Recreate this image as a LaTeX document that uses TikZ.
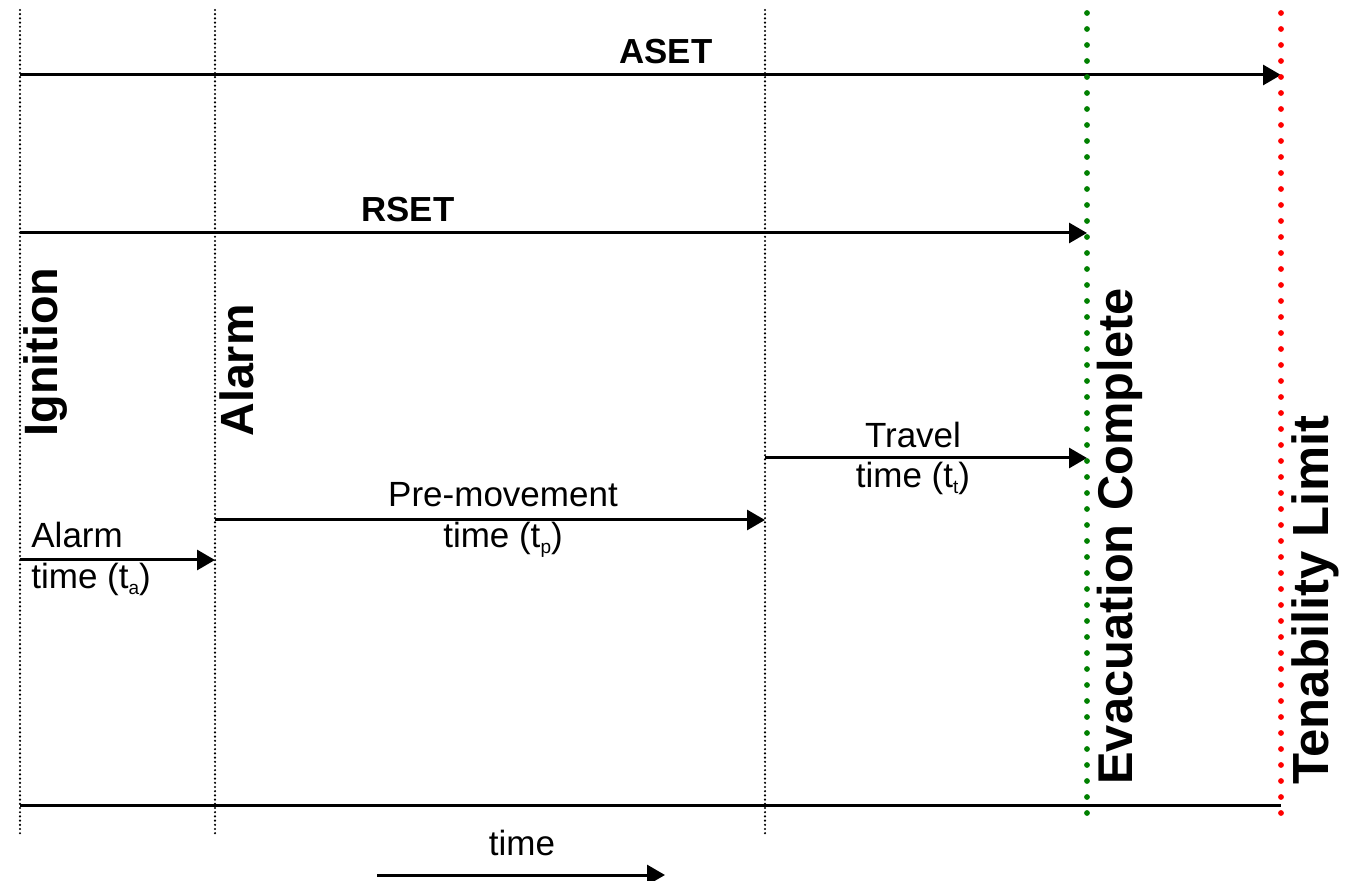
\documentclass[tikz,border=0pt]{standalone}
\usepackage{fontspec}
\setmainfont{Liberation Sans}
\usetikzlibrary{arrows.meta}
\definecolor{evgreen}{RGB}{0,128,0}
\definecolor{tenred}{RGB}{255,0,0}
\newcommand\lowsub[1]{\raisebox{-0.3ex}{\fontsize{9.5}{9.5}\selectfont #1}}
\begin{document}
\begin{tikzpicture}[x=0.5pt,y=-0.5pt,
  arr/.style={line width=1.5pt,-{Triangle[length=9pt,width=10pt]}},
  plainline/.style={line width=1.5pt},
  blackdot/.style={line width=1.2pt,line cap=round,dash pattern=on 0pt off 2.1pt},
  colordot/.style={line width=2.9pt,line cap=round,dash pattern=on 0pt off 8pt},
  lbl/.style={inner sep=0pt,anchor=base,font=\fontsize{17.5}{21}\selectfont},
  boldlbl/.style={inner sep=0pt,anchor=base,font=\fontsize{17.4}{21}\selectfont\bfseries},
  vlbl/.style={inner sep=0pt,rotate=90,anchor=base west}]
\useasboundingbox (0,0) rectangle (1355,881);
% vertical markers
\coordinate (igT) at (20,10);   \coordinate (igB) at (20,835);
\coordinate (alT) at (215,10);  \coordinate (alB) at (215,835);
\coordinate (pmT) at (765,10);  \coordinate (pmB) at (765,835);
\coordinate (evT) at (1087,13); \coordinate (evB) at (1087,825);
\coordinate (tlT) at (1281,13); \coordinate (tlB) at (1281,825);
% arrow end points
\coordinate (igA) at (20,75);   \coordinate (tlA) at (1281,75);
\coordinate (igR) at (20,233);  \coordinate (evR) at (1087,233);
\coordinate (pmTr) at (765,458); \coordinate (evTr) at (1087,458);
\coordinate (alP) at (215,520); \coordinate (pmP) at (765,520);
\coordinate (igAl) at (20,560); \coordinate (alAl) at (215,560);
\coordinate (igL) at (20,805);  \coordinate (tlL) at (1281,805);
\coordinate (tS) at (377,875);  \coordinate (tE) at (665,875);
% arrows
\draw[arr] (igA) -- (tlA);
\draw[arr] (igR) -- (evR);
\draw[arr] (pmTr) -- (evTr);
\draw[arr] (alP) -- (pmP);
\draw[arr] (igAl) -- (alAl);
\draw[plainline] (igL) -- (tlL);
\draw[arr] (tS) -- (tE);
% dotted verticals
\draw[blackdot] (igT) -- (igB);
\draw[blackdot] (alT) -- (alB);
\draw[blackdot] (pmT) -- (pmB);
\draw[colordot,evgreen] (evT) -- (evB);
\draw[colordot,tenred] (tlT) -- (tlB);
% labels
\node[boldlbl] (aset) at (666,64) {ASET};
\node[boldlbl] (rset) at (408,222) {RSET};
\node[vlbl,font=\fontsize{23.4}{28}\selectfont\bfseries] (ign) at (57,437) {Ignition};
\node[vlbl,font=\fontsize{23.3}{28}\selectfont\bfseries] (alm) at (253,437) {Alarm};
\node[vlbl,font=\fontsize{24.4}{28}\selectfont\bfseries] (evc) at (1132,785) {Evacuation Complete};
\node[vlbl,font=\fontsize{25.4}{28}\selectfont\bfseries] (ten) at (1328,785) {Tenability Limit};
\node[lbl,anchor=base west] (alt1) at (31,548) {Alarm};
\node[lbl,anchor=base west] (alt2) at (31,589) {time (t\lowsub{a})};
\node[lbl] (pm1) at (503,507) {Pre-movement};
\node[lbl] (pm2) at (503,548) {time (t\lowsub{p})};
\node[lbl] (tr1) at (913,448) {Travel};
\node[lbl] (tr2) at (913,488) {time (t\lowsub{t})};
\node[lbl] (time) at (522,855) {time};
\end{tikzpicture}
\end{document}
